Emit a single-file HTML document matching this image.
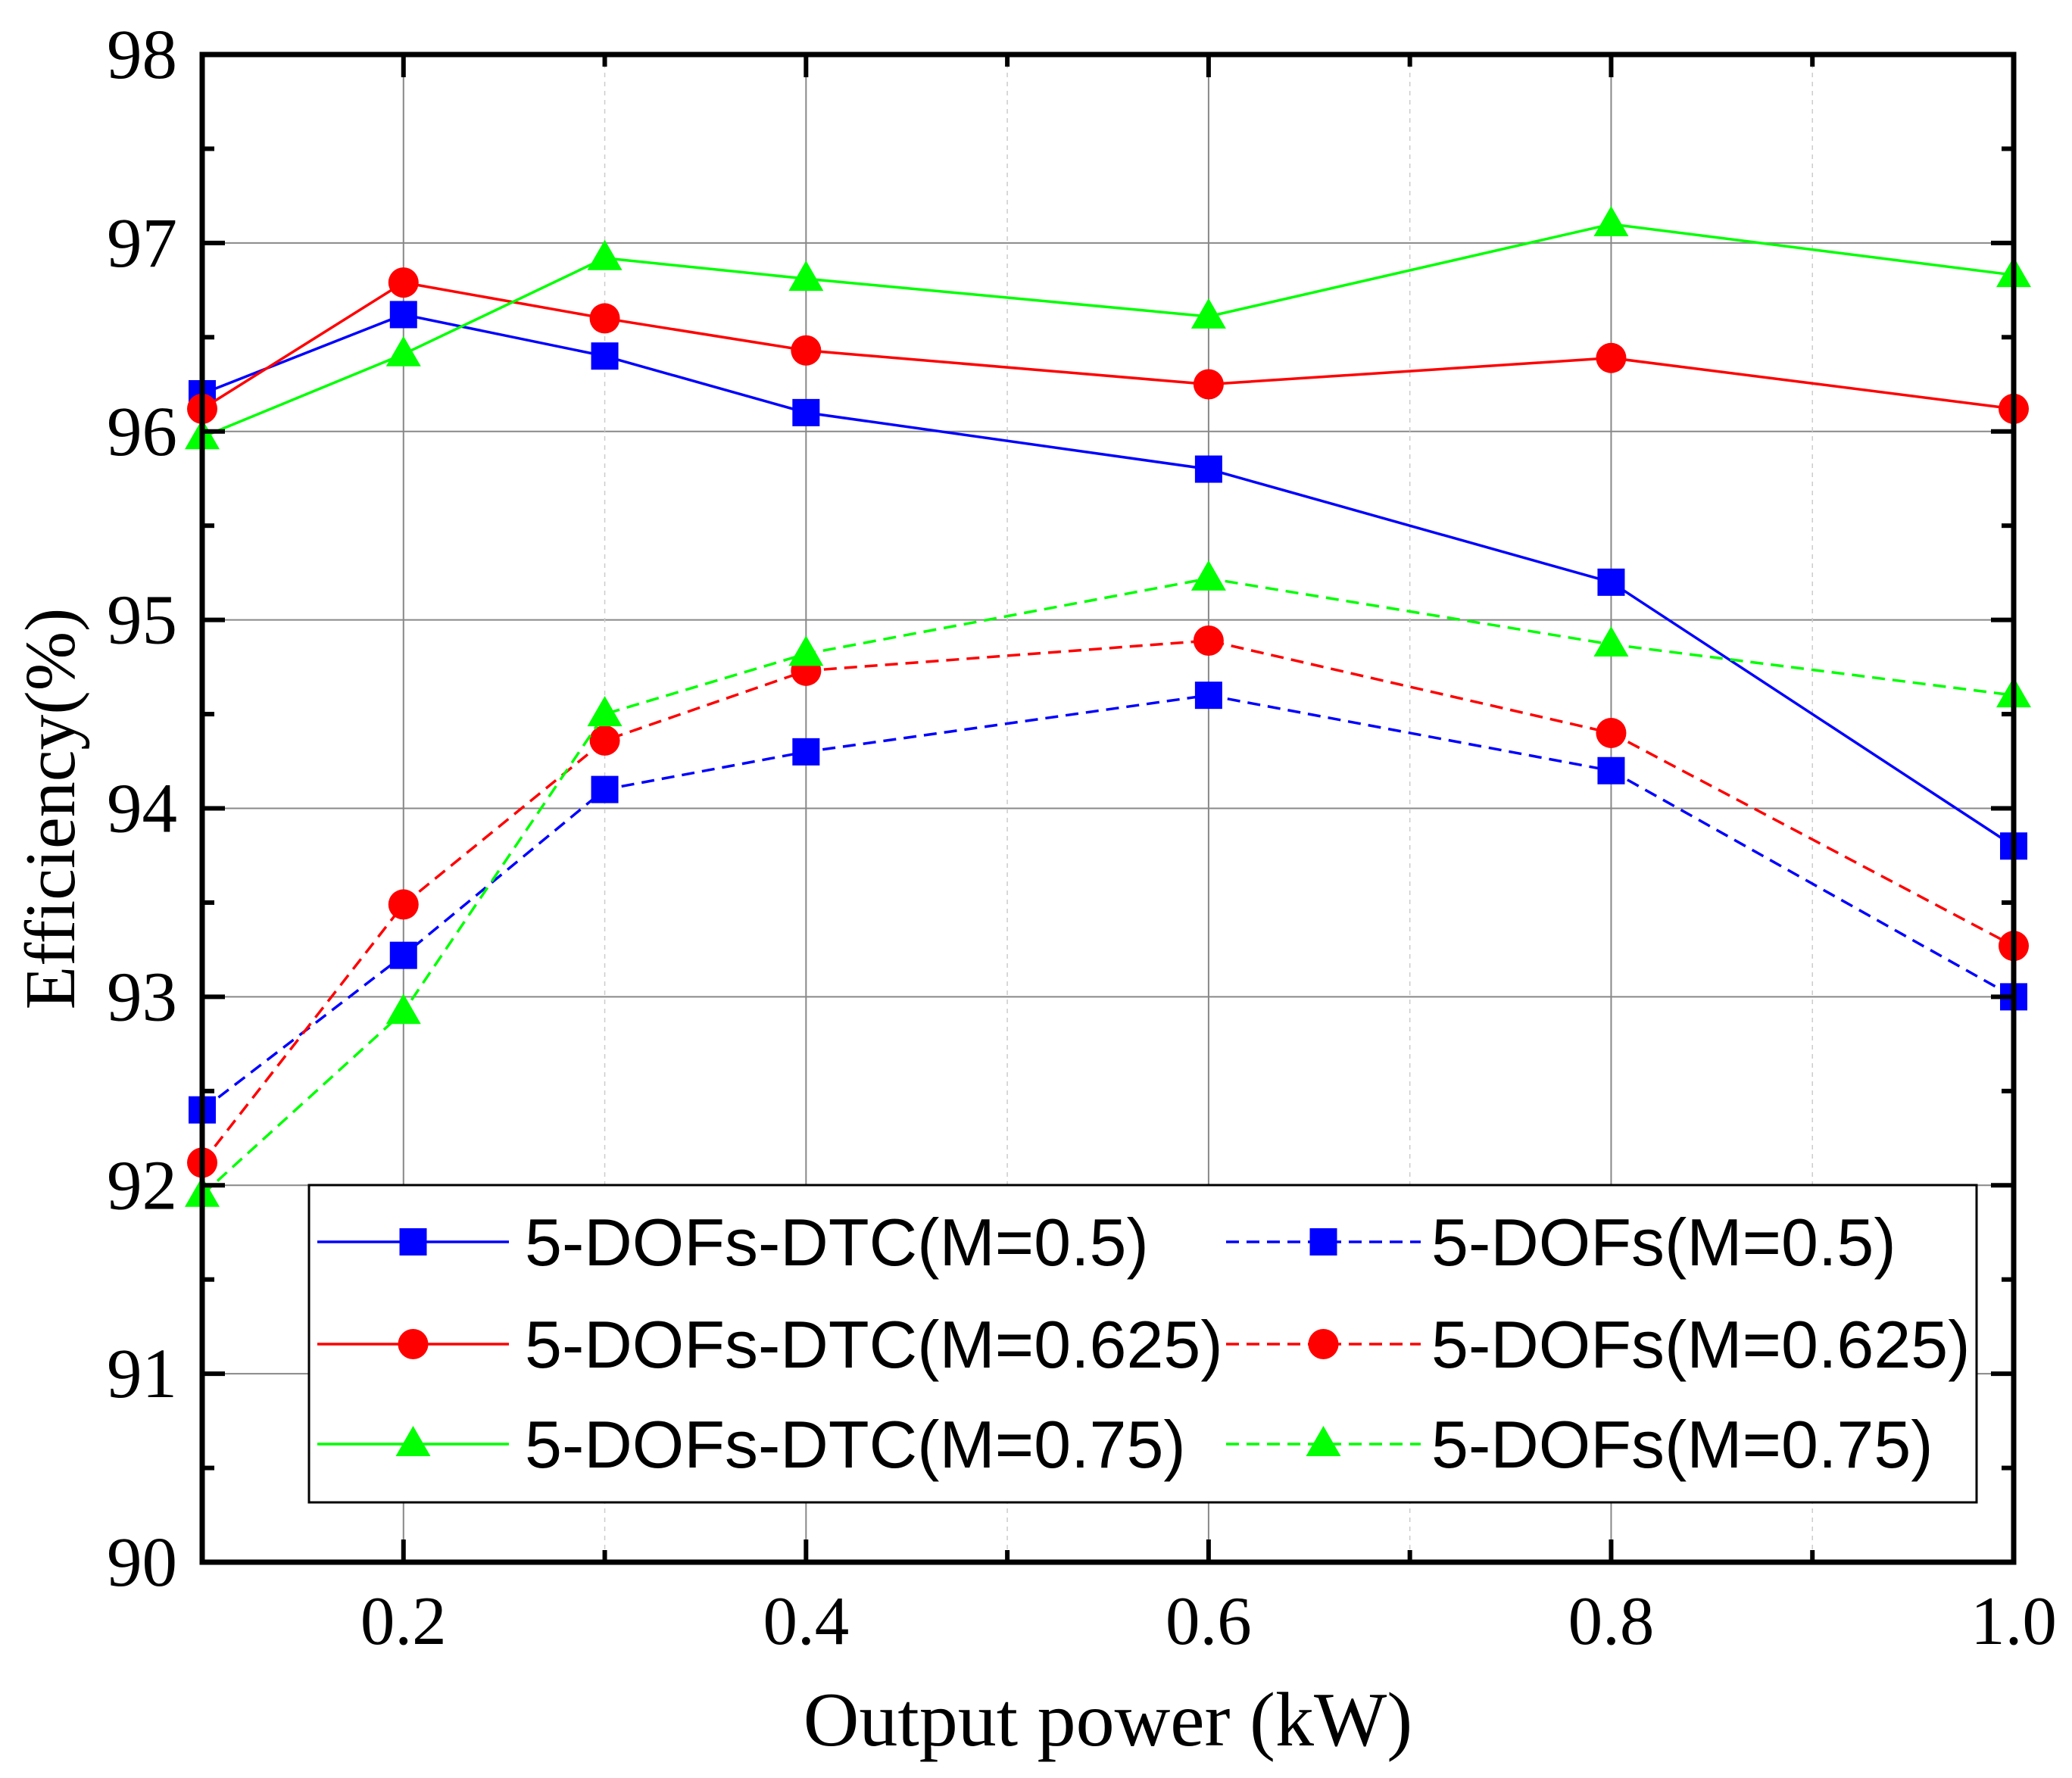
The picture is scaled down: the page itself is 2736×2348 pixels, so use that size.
<!DOCTYPE html>
<html><head><meta charset="utf-8"><style>html,body{margin:0;padding:0;background:#fff}svg{display:block}</style></head>
<body>
<svg id="chart" width="2736" height="2348" viewBox="0 0 2736 2348" xmlns="http://www.w3.org/2000/svg">
<g id="grid"></g>
<g id="series"></g>
<g id="axes"></g>
<g id="legend"></g>
</svg>
<script>
const xValues = [0.1, 0.2, 0.3, 0.4, 0.6, 0.8, 1.0];
const dtc05 = [96.2, 96.62, 96.4, 96.1, 95.8, 95.2, 93.8];
const dtc0625 = [96.12, 96.79, 96.6, 96.43, 96.25, 96.39, 96.12];
const dtc075 = [95.97, 96.41, 96.92, 96.81, 96.61, 97.1, 96.83];
const dof05 = [92.4, 93.22, 94.1, 94.3, 94.6, 94.2, 93.0];
const dof0625 = [92.12, 93.49, 94.36, 94.73, 94.89, 94.4, 93.27];
const dof075 = [91.95, 92.92, 94.5, 94.82, 95.22, 94.87, 94.6];
const xTicks = [0.2, 0.4, 0.6, 0.8, 1.0];
const xTickLabels = ["0.2", "0.4", "0.6", "0.8", "1.0"];
const xMinor = [0.3, 0.5, 0.7, 0.9];
const yTicks = [90, 91, 92, 93, 94, 95, 96, 97, 98];
const legendLabels = ["5-DOFs-DTC(M=0.5)", "5-DOFs-DTC(M=0.625)", "5-DOFs-DTC(M=0.75)", "5-DOFs(M=0.5)", "5-DOFs(M=0.625)", "5-DOFs(M=0.75)"];

const L=267,R=2659,T=72,B=2063;
const X=v=>L+(v-0.1)/0.9*(R-L);
const Y=v=>B-(v-90)/8*(B-T);
const NS="http://www.w3.org/2000/svg";
function mk(tag,attrs,parent){const e=document.createElementNS(NS,tag);for(const k in attrs)e.setAttribute(k,attrs[k]);parent.appendChild(e);return e;}
const grid=document.getElementById('grid'),series=document.getElementById('series'),axes=document.getElementById('axes'),legend=document.getElementById('legend');

yTicks.forEach(v=>{const l=mk('line',{x1:L,x2:R,y1:Y(v),y2:Y(v),stroke:'#888','stroke-width':2},grid);

});
xTicks.forEach(v=>{const l=mk('line',{x1:X(v),x2:X(v),y1:T,y2:B,stroke:'#888','stroke-width':2},grid);

});
xMinor.forEach(v=>{const l=mk('line',{x1:X(v),x2:X(v),y1:T,y2:B,stroke:'#ccc','stroke-width':1.5,'stroke-dasharray':'6 6'},grid);

});

const DASH='17 10';
const defs=[
 {d:dtc05,c:'#0000ff',m:'sq',dash:null,n:'series-dtc-m05'},
 {d:dtc0625,c:'#ff0000',m:'ci',dash:null,n:'series-dtc-m0625'},
 {d:dtc075,c:'#00ff00',m:'tr',dash:null,n:'series-dtc-m075'},
 {d:dof05,c:'#0000ff',m:'sq',dash:DASH,n:'series-dofs-m05'},
 {d:dof0625,c:'#ff0000',m:'ci',dash:DASH,n:'series-dofs-m0625'},
 {d:dof075,c:'#00ff00',m:'tr',dash:DASH,n:'series-dofs-m075'}];
function marker(type,x,y,c,parent){let e;
 if(type==='sq')e=mk('rect',{x:x-18,y:y-18,width:36,height:36,fill:c},parent);
 else if(type==='ci')e=mk('circle',{cx:x,cy:y,r:20,fill:c},parent);
 else e=mk('polygon',{points:`${x},${y-24} ${x-23},${y+16} ${x+23},${y+16}`,fill:c},parent);
 return e;}
defs.forEach(s=>{const g=mk('g',{},series);
 
 
 const pts=s.d.map((v,i)=>X(xValues[i])+','+Y(v)).join(' ');
 const pl=mk('polyline',{points:pts,fill:'none',stroke:s.c,'stroke-width':3.5},g);
 if(s.dash)pl.setAttribute('stroke-dasharray',s.dash);
 
 
 s.d.forEach((v,i)=>{const m=marker(s.m,X(xValues[i]),Y(v),s.c,g);
  
  });
});

const fr=mk('rect',{x:L,y:T,width:R-L,height:B-T,fill:'none',stroke:'#000','stroke-width':7},axes);


yTicks.forEach(v=>{mk('line',{x1:L,x2:L+30,y1:Y(v),y2:Y(v),stroke:'#000','stroke-width':6},axes);
 mk('line',{x1:R,x2:R-30,y1:Y(v),y2:Y(v),stroke:'#000','stroke-width':6},axes);
 if(v<98){mk('line',{x1:L,x2:L+16,y1:Y(v+0.5),y2:Y(v+0.5),stroke:'#000','stroke-width':6},axes);
 mk('line',{x1:R,x2:R-16,y1:Y(v+0.5),y2:Y(v+0.5),stroke:'#000','stroke-width':6},axes);}
 const t=mk('text',{x:234,y:Y(v)+31,'text-anchor':'end','font-family':'Liberation Serif, serif','font-size':93},axes);t.textContent=String(v);
 
 });
xTicks.forEach((v,i)=>{mk('line',{x1:X(v),x2:X(v),y1:B,y2:B-30,stroke:'#000','stroke-width':6},axes);
 mk('line',{x1:X(v),x2:X(v),y1:T,y2:T+30,stroke:'#000','stroke-width':6},axes);
 const t=mk('text',{x:X(v),y:2171,'text-anchor':'middle','font-family':'Liberation Serif, serif','font-size':91},axes);t.textContent=xTickLabels[i];
 
 });
xMinor.forEach(v=>{mk('line',{x1:X(v),x2:X(v),y1:B,y2:B-16,stroke:'#000','stroke-width':6},axes);
 mk('line',{x1:X(v),x2:X(v),y1:T,y2:T+16,stroke:'#000','stroke-width':6},axes);});
const xt=mk('text',{x:(L+R)/2,y:2305,'text-anchor':'middle','font-family':'Liberation Serif, serif','font-size':102},axes);xt.textContent='Output power (kW)';


const yt=mk('text',{x:0,y:0,'text-anchor':'middle','font-family':'Liberation Serif, serif','font-size':94,transform:'translate(98,1068) rotate(-90)'},axes);yt.textContent='Efficiency(%)';



const lb=mk('rect',{x:408,y:1565,width:2202,height:419,fill:'#fff',stroke:'#000','stroke-width':3},legend);


const rows=[1640,1775,1907];
defs.forEach((s,i)=>{const col=i<3?0:1,row=i%3;const x0=col?1619:419,x1=col?1876:672,tx=col?1890:693,y=rows[row];
 const g=mk('g',{},legend);
 
 
 const l=mk('line',{x1:x0,x2:x1,y1:y,y2:y,stroke:s.c,'stroke-width':3.5},g);if(s.dash)l.setAttribute('stroke-dasharray',s.dash);
 marker(s.m,(x0+x1)/2,y,s.c,g);
 const t=mk('text',{x:tx,y:y+31,'font-family':'Liberation Sans, sans-serif','font-size':88},g);t.textContent=legendLabels[i];});
</script>
</body></html>
